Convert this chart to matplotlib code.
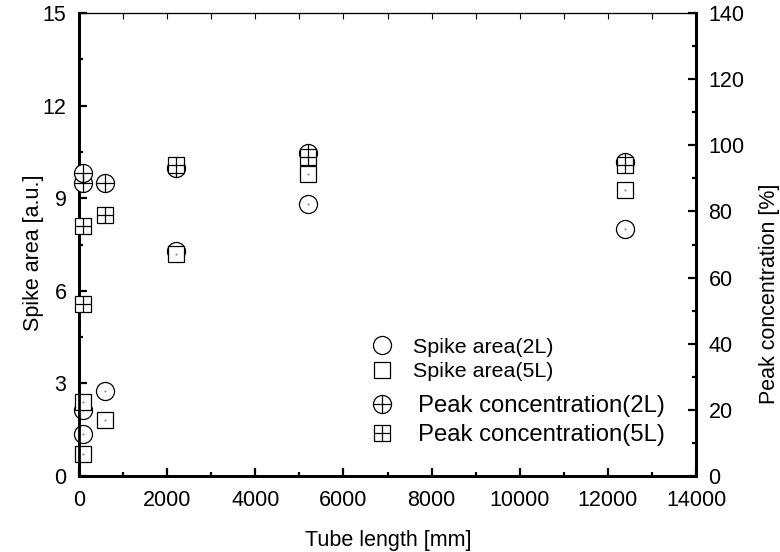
import matplotlib
matplotlib.use('Agg')
import matplotlib.pyplot as plt
from matplotlib.lines import Line2D
from matplotlib.ticker import MultipleLocator

plt.rcParams['font.family'] = ['Liberation Sans', 'DejaVu Sans']

# tube length [mm]
tube_length = [80, 100, 600, 2200, 5200, 12400]

# spike area [a.u.] (left axis)
spike_2L = [2.15, 1.35, 2.75, 7.3, 8.8, 8.0]
spike_5L = [2.4, 0.7, 1.8, 7.2, 9.8, 9.25]

# peak concentration [%] (right axis)
peak_2L = [88.6, 91.6, 88.6, 93.0, 97.6, 95.0]
peak_5L = [75.6, 52.0, 78.9, 94.0, 96.5, 94.0]

MS_C = 13
MS_S = 11.5
MEW = 0.9


def hollow(ax, x, y, marker, ms, z):
    ax.plot(x, y, ls='none', marker=marker, ms=ms, mfc='white', mec='black',
            mew=MEW, zorder=z, clip_on=False)


fig = plt.figure(figsize=(7.8, 5.52), dpi=100)
ax = fig.add_axes([79 / 780, 1 - 476 / 552, 617 / 780, 463 / 552])
ax2 = ax.twinx()

# spike area: hollow markers with a tiny centre dot
hollow(ax, tube_length, spike_2L, 'o', MS_C, 3)
ax.plot(tube_length, spike_2L, ls='none', marker='.', ms=1, color='0.5', zorder=3.1, clip_on=False)
hollow(ax, tube_length, spike_5L, 's', MS_S, 4)
ax.plot(tube_length, spike_5L, ls='none', marker='.', ms=1, color='0.5', zorder=4.1, clip_on=False)

# peak concentration: circle/square with a cross inside
hollow(ax2, tube_length, peak_2L, 'o', MS_C, 5)
ax2.plot(tube_length, peak_2L, ls='none', marker='+', ms=MS_C, mec='black', mew=MEW, zorder=5.1, clip_on=False)
hollow(ax2, tube_length, peak_5L, 's', MS_S, 6)
ax2.plot(tube_length, peak_5L, ls='none', marker='+', ms=MS_S, mec='black', mew=MEW, zorder=6.1, clip_on=False)

ax.set_xlim(0, 14000)
ax.set_ylim(0, 15)
ax2.set_ylim(0, 140)

ax.xaxis.set_major_locator(MultipleLocator(2000))
ax.xaxis.set_minor_locator(MultipleLocator(1000))
ax.yaxis.set_major_locator(MultipleLocator(3))
ax.yaxis.set_minor_locator(MultipleLocator(1.5))
ax2.yaxis.set_major_locator(MultipleLocator(20))
ax2.yaxis.set_minor_locator(MultipleLocator(10))

for a in (ax, ax2):
    a.tick_params(which='major', direction='in', length=6, width=1.6, labelsize=15.5, pad=9)
    a.tick_params(which='minor', direction='in', length=3, width=1.6)
    for s in ('left', 'bottom', 'right'):
        a.spines[s].set_linewidth(2.0)
    a.spines['top'].set_linewidth(0.8)
ax.tick_params(which='both', top=False, right=False)
ax.tick_params(axis='x', which='major', pad=10)

# thin top axis with small inward ticks
top = ax.secondary_xaxis('top')
top.xaxis.set_major_locator(MultipleLocator(1000))
top.tick_params(direction='in', length=4, width=0.8, labeltop=False)
top.spines['top'].set_linewidth(0.8)

ax.set_xlabel('Tube length [mm]', fontsize=15.5)
ax.set_ylabel('Spike area [a.u.]', fontsize=15.5)
ax2.set_ylabel('Peak concentration [%]', fontsize=15.5)
ax.xaxis.set_label_coords(0.502, -0.117)
ax.yaxis.set_label_coords(-0.057, 0.483)
ax2.yaxis.set_label_coords(1.102, 0.393)

# legend
def handle(marker, ms, cross=False):
    box = Line2D([], [], ls='none', marker=marker, ms=ms, mfc='white', mec='black', mew=MEW)
    if cross:
        return (box, Line2D([], [], ls='none', marker='+', ms=ms, mec='black', mew=MEW))
    return box

leg1 = ax2.legend([handle('o', MS_C), handle('s', MS_S)],
                  ['Spike area(2L)', 'Spike area(5L)'],
                  loc='center left', bbox_to_anchor=(371 / 780, 1 - 359.5 / 552),
                  bbox_transform=fig.transFigure, frameon=False, fontsize=15.4,
                  handlelength=1.0, handletextpad=0.96, labelspacing=0.24,
                  borderpad=0, borderaxespad=0)
ax2.add_artist(leg1)
ax2.legend([handle('o', MS_C, True), handle('s', MS_S, True)],
           ['Peak concentration(2L)', 'Peak concentration(5L)'],
           loc='center left', bbox_to_anchor=(370 / 780, 1 - 420.5 / 552),
           bbox_transform=fig.transFigure, frameon=False, fontsize=17.2,
           handlelength=1.0, handletextpad=1.0, labelspacing=0.3,
           borderpad=0, borderaxespad=0)

fig.savefig('out.png', dpi=100)
